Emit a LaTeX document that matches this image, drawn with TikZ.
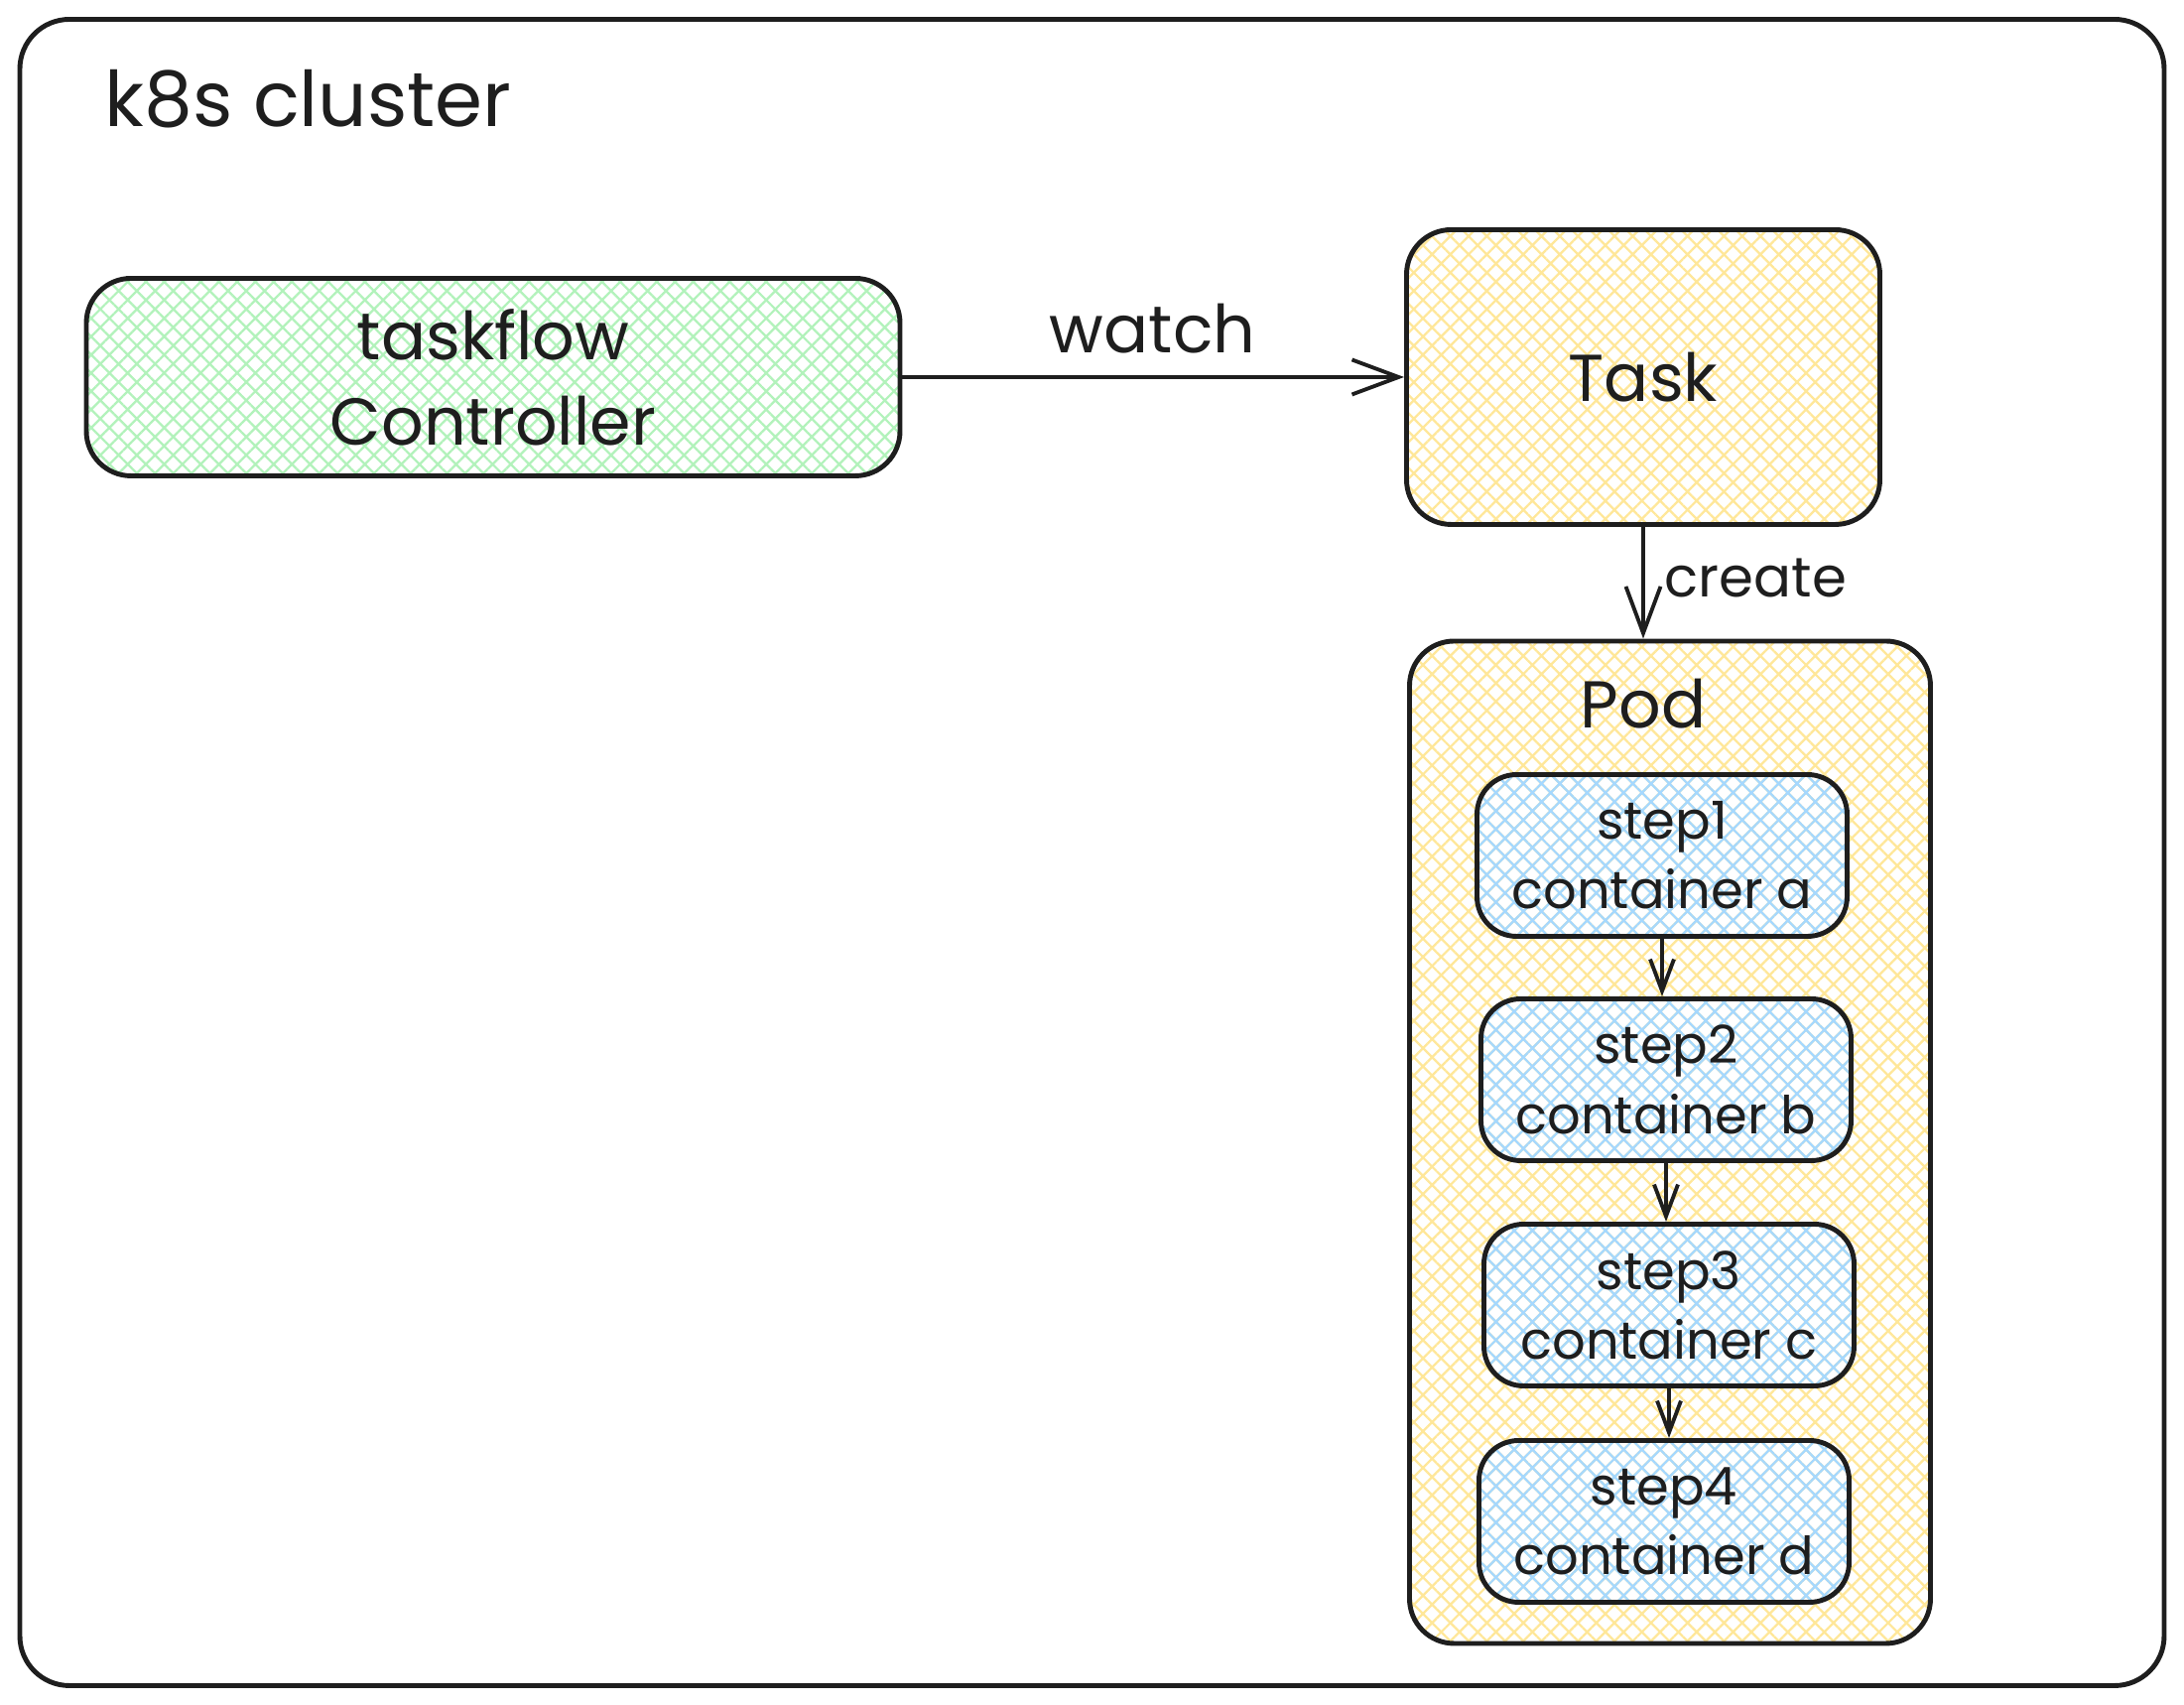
\documentclass[tikz,border=0pt]{standalone}
\usepackage{fontspec}
\setmainfont{Poppins}
\usetikzlibrary{arrows.meta,patterns.meta,positioning}
\definecolor{inkgray}{HTML}{1E1E1E}
\definecolor{hatchgreen}{HTML}{B2F2BB}
\definecolor{hatchyellow}{HTML}{FFE799}
\definecolor{hatchblue}{HTML}{A5D8FF}
\begin{document}
\begin{tikzpicture}[
    box/.style={draw=inkgray, line width=1.4pt, rounded corners=0.45cm, align=center,
      text=inkgray, font=\fontsize{19}{24.5}\selectfont},
    hatched/.style={pattern={Hatch[angle=45,distance=0.13cm,line width=0.65pt]}, pattern color=#1},
    stepbox/.style={box, hatched=hatchblue, minimum width=3.73cm, minimum height=1.63cm,
      rounded corners=0.4cm, font=\fontsize{15}{20}\selectfont},
    link/.style={draw=inkgray, line width=1.1pt, -{Straight Barb[length=0.47cm,width=0.35cm]}},
    steplink/.style={link, -{Straight Barb[length=0.32cm,width=0.24cm]}},
    lbl/.style={text=inkgray, font=\fontsize{19}{24}\selectfont}
  ]
  \useasboundingbox (0,0) rectangle (22.01,17.18);
  % cluster frame
  \node[box, minimum width=21.61cm, minimum height=16.79cm, rounded corners=0.5cm] (cluster) at (11.005,8.59) {};
  \node[lbl, anchor=base west, font=\fontsize{22}{26}\selectfont] (clustername) at (0.93,15.90) {k8s cluster};

  \node[box, hatched=hatchgreen, minimum width=8.20cm, minimum height=1.99cm] (ctrl) at (4.97,13.38) {taskflow\\Controller};
  \node[box, hatched=hatchyellow, minimum width=4.77cm, minimum height=2.97cm] (task) at (16.56,13.38) {Task};
  \node[box, hatched=hatchyellow, minimum width=5.25cm, minimum height=10.10cm] (pod) at (16.83,5.67) {};
  \node[lbl] (podname) at (16.56,10.09) {Pod};

  % steps inside the pod
  \node[stepbox] (step1) at (16.75,8.56) {step1\\container a};
  \node[stepbox] (step2) at (16.79,6.30) {step2\\container b};
  \node[stepbox] (step3) at (16.82,4.03) {step3\\container c};
  \node[stepbox] (step4) at (16.77,1.85) {step4\\container d};

  \draw[link] (ctrl.east) -- node[lbl, above=0.1cm] (watchlbl) {watch} (task.west);
  \draw[link] (task.south) -- node[lbl, right=0.08cm, yshift=0.05cm, font=\fontsize{16}{20}\selectfont] (createlbl) {create} (task.south |- pod.north);
  \foreach \a/\b in {step1/step2,step2/step3,step3/step4} % step order
    \draw[steplink] (\a.south) -- (\a.south |- \b.north);
\end{tikzpicture}
\end{document}
